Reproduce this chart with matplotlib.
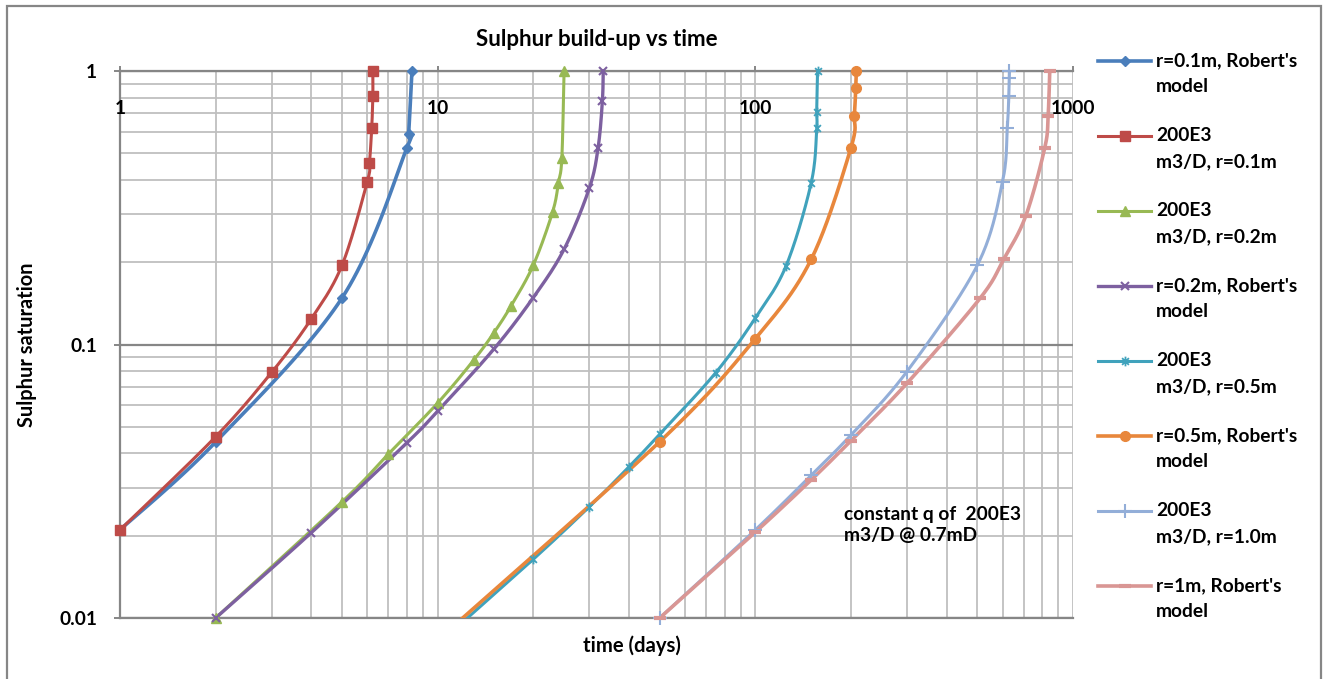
import matplotlib
matplotlib.use('Agg')
import matplotlib.pyplot as plt
from matplotlib.lines import Line2D
from matplotlib.patches import Rectangle
from matplotlib.path import Path
from matplotlib.ticker import NullFormatter
import numpy as np

plt.rcParams['font.family'] = ['Lato', 'DejaVu Sans']
plt.rcParams['font.weight'] = 'bold'
plt.rcParams['axes.titleweight'] = 'bold'
plt.rcParams['axes.labelweight'] = 'bold'

# values: time (days) vs sulphur saturation
t_rob_01 = [1, 2, 5, 8, 8.1, 8.3]
s_rob_01 = [0.021, 0.044, 0.148, 0.523, 0.588, 1.0]

t_q_01 = [1, 2, 3, 4, 5, 6, 6.1, 6.2, 6.25, 6.25]
s_q_01 = [0.021, 0.046, 0.079, 0.124, 0.195, 0.393, 0.46, 0.617, 0.81, 1.0]

t_q_02 = [2, 5, 7, 10, 13, 15, 17, 20, 23, 24, 24.6, 25]
s_q_02 = [0.01, 0.0266, 0.0398, 0.0611, 0.0878, 0.110, 0.138, 0.195, 0.305, 0.391, 0.481, 1.0]

t_rob_02 = [2, 4, 8, 10, 15, 20, 25, 30, 32, 33, 33.2]
s_rob_02 = [0.01, 0.0205, 0.0437, 0.0571, 0.096, 0.1485, 0.223, 0.372, 0.525, 0.777, 1.0]

t_q_05 = [10, 20, 30, 40, 50, 75, 100, 125, 150, 156, 156, 157]
s_q_05 = [0.008, 0.0164, 0.0255, 0.0357, 0.047, 0.0788, 0.125, 0.194, 0.391, 0.617, 0.71, 1.0]

t_rob_05 = [10, 50, 100, 150, 200, 205, 207, 208]
s_rob_05 = [0.0083, 0.0441, 0.105, 0.205, 0.524, 0.685, 0.869, 1.0]

t_q_10 = [50, 100, 150, 200, 300, 500, 600, 621, 628, 630, 631]
s_q_10 = [0.01, 0.021, 0.0333, 0.0467, 0.0796, 0.195, 0.394, 0.617, 0.812, 0.94, 1.0]

t_rob_10 = [50, 100, 150, 200, 300, 510, 605, 710, 815, 835, 845]
s_rob_10 = [0.01, 0.0206, 0.032, 0.0445, 0.0721, 0.1476, 0.205, 0.295, 0.524, 0.685, 1.0]

labels = ["r=0.1m, Robert's\nmodel", "200E3\nm3/D, r=0.1m", "200E3\nm3/D, r=0.2m",
          "r=0.2m, Robert's\nmodel", "200E3\nm3/D, r=0.5m", "r=0.5m, Robert's\nmodel",
          "200E3\nm3/D, r=1.0m", "r=1m, Robert's\nmodel"]

xtick_vals = [1, 10, 100, 1000]
xtick_text = ['1', '10', '100', '1000']
ytick_vals = [0.01, 0.1, 1]
ytick_text = ['0.01', '0.1', '1']

note = 'constant q of  200E3\nm3/D @ 0.7mD'

FS = 13.8

# excel style asterisk marker
star = Path([(0, -1), (0, 1), (-0.7, -0.7), (0.7, 0.7), (-0.7, 0.7), (0.7, -0.7)],
            [Path.MOVETO, Path.LINETO] * 3)

series = [
    (t_rob_01, s_rob_01, '#4A7EBB', dict(marker='D', ms=5, lw=2.6)),
    (t_q_01, s_q_01, '#BE4B48', dict(marker='s', ms=7, lw=2.2)),
    (t_q_02, s_q_02, '#98B954', dict(marker='^', ms=7, lw=2.2)),
    (t_rob_02, s_rob_02, '#7D60A0', dict(marker='x', ms=6, mew=1.5, lw=2.4)),
    (t_q_05, s_q_05, '#40A2BC', dict(marker=star, ms=7, mew=1.3, lw=2.2)),
    (t_rob_05, s_rob_05, '#E8873C', dict(marker='o', ms=7, lw=2.6)),
    (t_q_10, s_q_10, '#93AED8', dict(marker='+', ms=10, mew=1.5, lw=2.2)),
    (t_rob_10, s_rob_10, '#D99694', dict(marker='_', ms=8, mew=3, lw=2.6)),
]


def smooth(x, y, n=25):
    # catmull-rom through the points in log-log space (excel "smoothed line")
    p = np.column_stack([np.log10(x), np.log10(y)])
    p = np.vstack([p[0], p, p[-1]])
    t = np.linspace(0, 1, n)[:, None]
    out = []
    for i in range(1, len(p) - 2):
        p0, p1, p2, p3 = p[i - 1], p[i], p[i + 1], p[i + 2]
        seg = 0.5 * (2 * p1 + (-p0 + p2) * t + (2 * p0 - 5 * p1 + 4 * p2 - p3) * t ** 2
                     + (-p0 + 3 * p1 - 3 * p2 + p3) * t ** 3)
        out.append(seg)
    out = np.vstack(out)
    return 10 ** out[:, 0], 10 ** out[:, 1]


W, H = 1324, 679
fig = plt.figure(figsize=(W / 100, H / 100), dpi=100)
ax = fig.add_axes([120 / W, (H - 618) / H, 953 / W, 547 / H])

for x, y, c, st in series:
    st = dict(st)
    lw = st.pop('lw')
    xs, ys = smooth(x, y)
    ax.plot(xs, ys, color=c, lw=lw, solid_capstyle='round', zorder=3)
    x = np.array(x)
    y = np.array(y)
    keep = y >= 0.01
    ax.plot(x[keep], y[keep], ls='none', color=c, mec=c, mfc=c, clip_on=False, zorder=4, **st)

ax.set_xscale('log')
ax.set_yscale('log')
ax.set_xlim(1, 1000)
ax.set_ylim(0.01, 1)
ax.set_axisbelow(True)

ax.grid(which='both', axis='x', color='#BFBFBF', lw=1.3)
ax.grid(which='minor', axis='y', color='#BFBFBF', lw=1.3)
ax.grid(which='major', axis='y', color='#868686', lw=1.6)

for side in ['left', 'top', 'bottom']:
    ax.spines[side].set_color('#868686')
    ax.spines[side].set_linewidth(1.6)
ax.spines['right'].set_visible(False)

ax.set_yticks(ytick_vals)
ax.set_yticklabels(ytick_text)
ax.yaxis.set_minor_formatter(NullFormatter())
ax.xaxis.set_major_formatter(NullFormatter())
ax.xaxis.set_minor_formatter(NullFormatter())
ax.tick_params(which='minor', length=0)
ax.tick_params(axis='y', which='major', length=4.5, width=1.4, color='#868686',
               pad=12, labelsize=FS)
ax.tick_params(axis='x', which='major', bottom=False, top=True, length=3.5,
               width=1.4, color='#868686')

# x tick labels sit inside, just under the top axis line
for v, s in zip(xtick_vals, xtick_text):
    ax.text(v, 1 - 38 / 547, s, transform=ax.get_xaxis_transform(),
            ha='center', va='center', fontsize=FS)

ax.set_title('Sulphur build-up vs time', fontsize=16, y=1 + 31 / 547, pad=0, va='center')
ax.set_xlabel('time (days)', fontsize=14.6, va='center')
ax.xaxis.set_label_coords((632 - 120) / 953, -28 / 547)
ax.set_ylabel('Sulphur saturation', fontsize=14.4, va='center')
ax.yaxis.set_label_coords((27 - 120) / 953, 0.5)

ax.text(844 / W, 1 - 525 / H, note, transform=fig.transFigure, ha='left', va='center',
        fontsize=FS, linespacing=1.3)

# legend, drawn entry by entry like excel (handle level with first line)
for i, (lab, (x, y, c, st)) in enumerate(zip(labels, series)):
    st = dict(st)
    lw = st.pop('lw')
    yy = 1 - (60.7 + 75 * i) / H
    fig.add_artist(Line2D([1098 / W, 1151 / W], [yy, yy], transform=fig.transFigure,
                          color=c, lw=lw))
    fig.add_artist(Line2D([1124.5 / W], [yy], transform=fig.transFigure, ls='none',
                          color=c, mec=c, mfc=c, **st))
    for k, line in enumerate(lab.split('\n')):
        fig.text(1156 / W, yy - 26 * k / H, line, ha='left', va='center', fontsize=FS)

# chart area border
fig.add_artist(Rectangle((7 / W, -0.1), (1321 - 7) / W, 1 - 6 / H + 0.1,
                         transform=fig.transFigure, fill=False, edgecolor='#868686', lw=1.6))

fig.savefig('out.png', dpi=100)
